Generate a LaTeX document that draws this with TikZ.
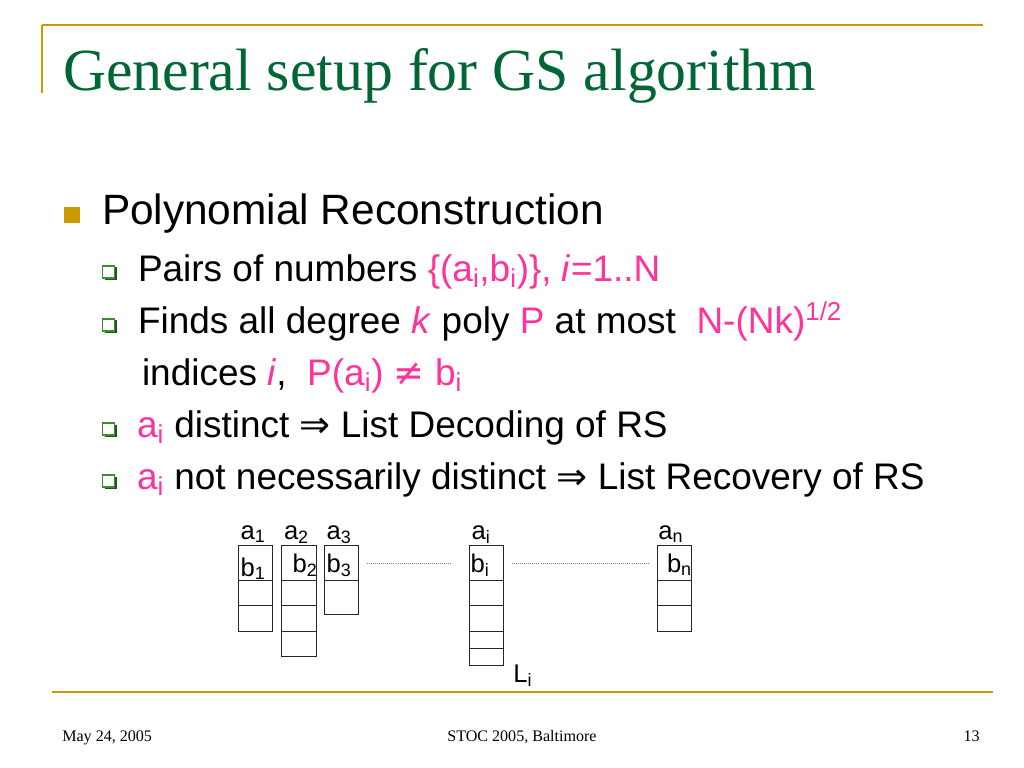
\documentclass[tikz,border=0pt]{standalone}
\usepackage{fontspec}
\setmainfont{Liberation Sans}
\newfontfamily\titlefont{Liberation Serif}
\newfontfamily\symfont{DejaVu Sans}
\usetikzlibrary{positioning}
\definecolor{slidegold}{RGB}{204,153,0}
\definecolor{slidegreen}{RGB}{0,102,51}
\definecolor{bulletgreen}{RGB}{60,140,50}
\definecolor{hlpink}{RGB}{255,51,153}
\newcommand\pxu{0.703125pt}
\newcommand\pink[1]{\textcolor{hlpink}{#1}}
\newcommand\sub[1]{\textsubscript{#1}}
\tikzset{
  txt/.style = {anchor=base west, inner sep=0pt, outer sep=0pt},
  title/.style = {txt, text=slidegreen, font=\titlefont\fontsize{42}{48}\selectfont},
  lvlone/.style = {txt, font=\fontsize{29.8}{34}\selectfont},
  lvltwo/.style = {txt, font=\fontsize{26}{30}\selectfont},
  lbl/.style = {txt, font=\fontsize{18}{22}\selectfont},
  footer/.style = {inner sep=0pt, font=\titlefont\fontsize{11.3}{13}\selectfont},
  rule/.style = {draw=slidegold, line width=2*\pxu},
  goldsq/.style = {fill=slidegold, minimum size=16*\pxu, inner sep=0pt},
  greensq/.style = {draw=bulletgreen, fill=white, line width=1.2*\pxu,
    minimum size=12*\pxu, inner sep=0pt},% hollow bullet
  cellbase/.style = {draw=black!85, line width=0.9*\pxu, inner sep=0pt,
    outer sep=0pt, minimum width=34.5*\pxu},
  topcell/.style = {cellbase, minimum height=34.3*\pxu, anchor=north west},
  cell/.style = {cellbase, minimum height=25.5*\pxu},
  tallcell/.style = {cellbase, minimum height=34.3*\pxu},
  thincell/.style = {cellbase, minimum height=17*\pxu},
  dotline/.style = {draw=gray, densely dotted, line width=0.6*\pxu}
}
\newcommand\bulletsq[2]{% name, baseline
  \fill[bulletgreen!60!black] (104.5,#2-12.5) rectangle (117,#2);
  \node[greensq] (#1) at (108.5,#2-8) {};
}
\begin{document}
\begin{tikzpicture}[x=0.703125pt, y=-0.703125pt]
  \useasboundingbox[fill=white] (0,0) rectangle (1024,768);
  % frame
  \draw[rule] (42.3,25.5) -- (983,25.5);
  \draw[rule] (42.3,25.5) -- (42.3,93);
  \draw[rule] (52,691.5) -- (993,691.5);
  \node[title] (title) at (63,91) {General setup for GS algorithm};
  % bullets and text
  \node[goldsq] (b0) at (71.5,215) {};
  \node[lvlone] (poly) at (102,225) {Polynomial Reconstruction};
  \bulletsq{b1}{280}
  \node[lvltwo] (pairs) at (138,281)
    {Pairs of numbers \pink{\{(a\sub{i},b\sub{i})\}, \textit{i}=1..N}};
  \bulletsq{b2}{333}
  \node[lvltwo] (finds) at (138,333)
    {Finds all degree \pink{\textit{k}} poly \pink{P} at most\ \ \pink{N-(Nk)\textsuperscript{1/2}}};
  \node[lvltwo] (indices) at (142,385)
    {indices \pink{\textit{i}}, \ \pink{P(a\sub{i}) {\symfont ≠} b\sub{i}}};
  \bulletsq{b3}{437}
  \node[lvltwo] (distinct) at (137,437)
    {\pink{a\sub{i}} distinct {\symfont ⇒} List Decoding of RS};
  \bulletsq{b4}{489}
  \node[lvltwo] (recov) at (137,489)
    {\pink{a\sub{i}} not necessarily distinct {\symfont ⇒} List Recovery of RS};
  % lists of values
  \node[topcell] (c1r1) at (238.3,545.7) {};
  \node[cell, below=0pt of c1r1] (c1r2) {};
  \node[cell, below=0pt of c1r2] (c1r3) {};
  \node[topcell] (c2r1) at (281.7,545.7) {};
  \node[cell, below=0pt of c2r1] (c2r2) {};
  \node[cell, below=0pt of c2r2] (c2r3) {};
  \node[cell, below=0pt of c2r3] (c2r4) {};
  \node[topcell] (c3r1) at (324.3,545.7) {};
  \node[tallcell, below=0pt of c3r1] (c3r2) {};
  \node[topcell] (cir1) at (469.3,545.7) {};
  \node[cell, below=0pt of cir1] (cir2) {};
  \node[cell, below=0pt of cir2] (cir3) {};
  \node[thincell, below=0pt of cir3] (cir4) {};
  \node[thincell, below=0pt of cir4] (cir5) {};
  \node[topcell] (cnr1) at (657,545.7) {};
  \node[cell, below=0pt of cnr1] (cnr2) {};
  \node[cell, below=0pt of cnr2] (cnr3) {};
  \draw[dotline, shorten <=8.4*\pxu, shorten >=17.6*\pxu] (c3r1.east) -- (cir1.west);
  \draw[dotline, shorten <=8.4*\pxu, shorten >=8.7*\pxu] (cir1.east) -- (cnr1.west);
  % labels
  \node[lbl] (a1) at (240.7,539) {a\sub{1}};
  \node[lbl] (a2) at (284,539) {a\sub{2}};
  \node[lbl] (a3) at (326.7,539) {a\sub{3}};
  \node[lbl] (ai) at (471.7,539) {a\sub{i}};
  \node[lbl] (an) at (658.3,539) {a\sub{n}};
  \node[lbl] (lb1) at (240.7,576) {b\sub{1}};
  \node[lbl] (lb2) at (292.7,572) {b\sub{2}};
  \node[lbl] (lb3) at (326.7,572) {b\sub{3}};
  \node[lbl] (lbi) at (470.7,572) {b\sub{i}};
  \node[lbl] (lbn) at (667,572) {b\sub{n}};
  \node[lbl] (Li) at (513.3,682) {L\sub{i}};
  % footer
  \node[footer, anchor=base west] (date) at (62,741.7) {May 24, 2005};
  \node[footer, anchor=base] (conf) at (522,741.7) {STOC 2005, Baltimore};
  \node[footer, anchor=base east] (page) at (980,741.7) {13};
\end{tikzpicture}
\end{document}
